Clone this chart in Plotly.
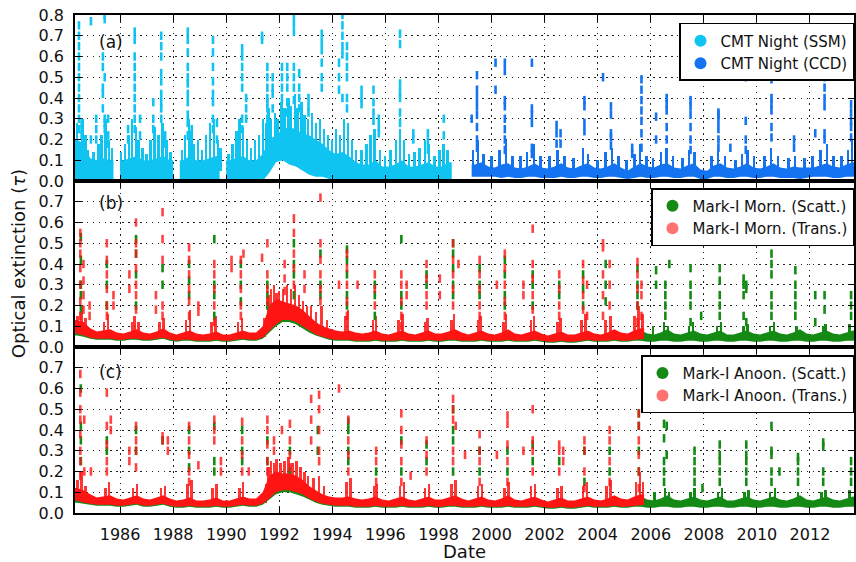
import plotly.graph_objects as go
from plotly.subplots import make_subplots

# ---------------- data ----------------
YEAR_TICKS = [1986, 1988, 1990, 1992, 1994, 1996, 1998, 2000, 2002, 2004, 2006, 2008, 2010, 2012]
YEAR_LABELS = [str(y) for y in YEAR_TICKS]
TAU_TICKS_A = [0.0, 0.1, 0.2, 0.3, 0.4, 0.5, 0.6, 0.7, 0.8]
TAU_TICKS_BC = [0.0, 0.1, 0.2, 0.3, 0.4, 0.5, 0.6, 0.7]

# Dense "background" cloud of each series, given per quarter (low / high envelope)
SSM_START = 1984.375
SSM_LO = [0.0, 0.0, 0.01,
          0.01, 0.01, 0.01, None,
          0.01, 0.01, 0.01, 0.01,
          0.01, 0.01, 0.01, 0.01,
          None, 0.01, 0.01, 0.01,
          0.0, 0.0, 0.0, None,
          0.0, 0.0, 0.0, 0.0,
          0.0, 0.0, 0.04, 0.09,
          0.1, 0.08, 0.07, 0.05,
          0.03, 0.02, 0.02, 0.01,
          0.01, 0.01, 0.01, 0.01,
          0.01, 0.01, 0.01, 0.01,
          0.01, 0.01, 0.01, 0.01,
          0.01, 0.01, 0.01, 0.01,
          0.01, 0.01]
SSM_HI = [0.2, 0.18, 0.11,
          0.1, 0.11, 0.1, None,
          0.1, 0.11, 0.12, 0.1,
          0.1, 0.11, 0.12, 0.1,
          None, 0.1, 0.12, 0.1,
          0.1, 0.11, 0.12, None,
          0.1, 0.11, 0.12, 0.1,
          0.1, 0.13, 0.2, 0.22,
          0.25, 0.26, 0.25, 0.23,
          0.22, 0.2, 0.18, 0.15,
          0.13, 0.14, 0.12, 0.09,
          0.08, 0.08, 0.1, 0.07,
          0.07, 0.08, 0.1, 0.07,
          0.07, 0.08, 0.09, 0.07,
          0.07, 0.09]

CCD_START = 1999.375
CCD_LO = [0.02, 0.02, 0.02,
          0.02, 0.015, 0.02, 0.015,
          0.015, 0.02, 0.02, 0.015,
          0.015, 0.015, 0.02, 0.015,
          0.015, 0.02, 0.02, 0.015,
          0.015, 0.02, 0.02, 0.015,
          0.01, 0.015, 0.02, 0.015,
          0.015, 0.02, 0.02, 0.015,
          0.015, 0.02, 0.02, 0.01,
          0.01, 0.02, 0.02, 0.015,
          0.015, 0.02, 0.02, 0.015,
          0.015, 0.02, 0.02, 0.015,
          0.015, 0.015, 0.01, 0.015,
          0.02, 0.02, 0.02, 0.015,
          0.015, 0.02, 0.02]
CCD_HI = [0.08, 0.09, 0.07,
          0.065, 0.08, 0.085, 0.065,
          0.06, 0.07, 0.085, 0.065,
          0.06, 0.07, 0.085, 0.065,
          0.06, 0.075, 0.085, 0.065,
          0.06, 0.07, 0.085, 0.065,
          0.05, 0.07, 0.085, 0.07,
          0.065, 0.08, 0.085, 0.065,
          0.06, 0.075, 0.085, 0.055,
          0.05, 0.075, 0.085, 0.065,
          0.06, 0.07, 0.085, 0.065,
          0.06, 0.07, 0.085, 0.065,
          0.06, 0.07, 0.065, 0.065,
          0.065, 0.075, 0.085, 0.07,
          0.065, 0.08, 0.09]

MK_START = 1984.375
MORN_TR_LO = [0.065, 0.055, 0.045,
              0.04, 0.04, 0.04, 0.035,
              0.035, 0.04, 0.04, 0.035,
              0.035, 0.04, 0.045, 0.035,
              0.03, 0.035, 0.035, 0.03,
              0.03, 0.03, 0.035, 0.03,
              0.03, 0.035, 0.04, 0.035,
              0.035, 0.045, 0.08, 0.11,
              0.13, 0.13, 0.12, 0.1,
              0.08, 0.06, 0.05, 0.04,
              0.035, 0.035, 0.035, 0.03,
              0.03, 0.03, 0.035, 0.03,
              0.03, 0.03, 0.035, 0.03,
              0.03, 0.03, 0.035, 0.03,
              0.03, 0.035, 0.035, 0.03,
              0.03, 0.03, 0.035, 0.03,
              0.03, 0.03, 0.035, 0.03,
              0.03, 0.03, 0.035, 0.03,
              0.025, 0.025, 0.03, 0.025,
              0.025, 0.03, 0.035, 0.03,
              0.03, 0.03, 0.035, 0.03,
              0.03, 0.035, 0.04]
MORN_TR_HI = [0.13, 0.12, 0.09,
              0.075, 0.08, 0.085, 0.07,
              0.065, 0.075, 0.085, 0.07,
              0.065, 0.075, 0.09, 0.07,
              0.06, 0.07, 0.08, 0.065,
              0.06, 0.065, 0.075, 0.06,
              0.06, 0.07, 0.08, 0.07,
              0.07, 0.1, 0.2, 0.23,
              0.22, 0.21, 0.2, 0.18,
              0.15, 0.12, 0.1, 0.09,
              0.08, 0.075, 0.08, 0.07,
              0.065, 0.07, 0.08, 0.065,
              0.06, 0.07, 0.08, 0.065,
              0.06, 0.07, 0.08, 0.065,
              0.065, 0.075, 0.085, 0.07,
              0.06, 0.07, 0.08, 0.065,
              0.06, 0.07, 0.085, 0.065,
              0.06, 0.07, 0.08, 0.065,
              0.055, 0.065, 0.075, 0.06,
              0.06, 0.07, 0.08, 0.065,
              0.06, 0.07, 0.085, 0.07,
              0.065, 0.08, 0.09]
MORN_SC_LO = [0.055, 0.05, 0.04,
              0.035, 0.035, 0.035, 0.03,
              0.03, 0.035, 0.035, 0.03,
              0.03, 0.035, 0.04, 0.03,
              0.025, 0.03, 0.03, 0.025,
              0.025, 0.025, 0.03, 0.025,
              0.025, 0.03, 0.035, 0.03,
              0.03, 0.04, 0.07, 0.1,
              0.12, 0.12, 0.11, 0.09,
              0.07, 0.055, 0.045, 0.035,
              0.03, 0.03, 0.03, 0.025,
              0.025, 0.025, 0.03, 0.025,
              0.025, 0.025, 0.03, 0.025,
              0.025, 0.025, 0.03, 0.025,
              0.025, 0.03, 0.03, 0.025,
              0.025, 0.025, 0.03, 0.025,
              0.025, 0.025, 0.03, 0.025,
              0.025, 0.025, 0.03, 0.025,
              0.02, 0.02, 0.025, 0.02,
              0.02, 0.025, 0.03, 0.025,
              0.025, 0.025, 0.03, 0.025,
              0.025, 0.03, 0.03, 0.025,
              0.025, 0.03, 0.03, 0.025,
              0.025, 0.03, 0.03, 0.025,
              0.025, 0.03, 0.03, 0.025,
              0.025, 0.03, 0.03, 0.025,
              0.025, 0.03, 0.03, 0.025,
              0.025, 0.03, 0.03, 0.025,
              0.025, 0.03, 0.03, 0.025,
              0.025, 0.03, 0.03]
MORN_SC_HI = [0.12, 0.11, 0.085,
              0.07, 0.075, 0.08, 0.065,
              0.06, 0.07, 0.08, 0.065,
              0.06, 0.07, 0.085, 0.065,
              0.055, 0.065, 0.075, 0.06,
              0.055, 0.06, 0.07, 0.055,
              0.055, 0.065, 0.075, 0.065,
              0.065, 0.09, 0.19, 0.22,
              0.21, 0.2, 0.19, 0.17,
              0.14, 0.11, 0.09, 0.085,
              0.075, 0.07, 0.075, 0.065,
              0.06, 0.065, 0.075, 0.06,
              0.055, 0.065, 0.075, 0.06,
              0.055, 0.065, 0.075, 0.06,
              0.06, 0.07, 0.08, 0.065,
              0.055, 0.065, 0.075, 0.06,
              0.055, 0.065, 0.08, 0.06,
              0.055, 0.065, 0.075, 0.06,
              0.05, 0.06, 0.07, 0.055,
              0.055, 0.065, 0.075, 0.06,
              0.055, 0.065, 0.08, 0.065,
              0.06, 0.07, 0.08, 0.065,
              0.06, 0.07, 0.085, 0.065,
              0.06, 0.07, 0.08, 0.065,
              0.06, 0.07, 0.08, 0.06,
              0.06, 0.07, 0.08, 0.065,
              0.06, 0.07, 0.08, 0.065,
              0.06, 0.07, 0.085, 0.065,
              0.06, 0.07, 0.08, 0.065,
              0.06, 0.07, 0.08]

ANOON_TR_LO = [0.06, 0.05, 0.045,
               0.04, 0.04, 0.04, 0.035,
               0.035, 0.04, 0.045, 0.035,
               0.035, 0.04, 0.045, 0.035,
               0.03, 0.03, 0.035, 0.03,
               0.03, 0.03, 0.035, 0.03,
               0.03, 0.035, 0.04, 0.035,
               0.035, 0.045, 0.07, 0.1,
               0.11, 0.11, 0.1, 0.09,
               0.07, 0.055, 0.045, 0.04,
               0.035, 0.035, 0.035, 0.03,
               0.03, 0.03, 0.035, 0.03,
               0.03, 0.03, 0.035, 0.03,
               0.03, 0.03, 0.035, 0.03,
               0.03, 0.035, 0.035, 0.03,
               0.03, 0.03, 0.035, 0.03,
               0.03, 0.03, 0.035, 0.03,
               0.03, 0.03, 0.035, 0.03,
               0.025, 0.025, 0.03, 0.025,
               0.025, 0.03, 0.035, 0.03,
               0.03, 0.03, 0.035, 0.03,
               0.03, 0.035, 0.04]
ANOON_TR_HI = [0.12, 0.11, 0.09,
               0.075, 0.08, 0.085, 0.07,
               0.065, 0.075, 0.085, 0.07,
               0.065, 0.075, 0.085, 0.07,
               0.06, 0.065, 0.075, 0.06,
               0.06, 0.065, 0.075, 0.06,
               0.06, 0.07, 0.08, 0.07,
               0.07, 0.1, 0.18, 0.2,
               0.19, 0.19, 0.18, 0.16,
               0.13, 0.11, 0.09, 0.08,
               0.075, 0.075, 0.08, 0.07,
               0.065, 0.07, 0.08, 0.065,
               0.06, 0.07, 0.08, 0.065,
               0.06, 0.07, 0.08, 0.065,
               0.065, 0.075, 0.085, 0.07,
               0.06, 0.07, 0.08, 0.065,
               0.06, 0.07, 0.085, 0.065,
               0.06, 0.07, 0.08, 0.065,
               0.055, 0.065, 0.075, 0.06,
               0.06, 0.07, 0.08, 0.065,
               0.06, 0.07, 0.085, 0.07,
               0.065, 0.08, 0.09]
ANOON_SC_LO = [0.05, 0.045, 0.04,
               0.035, 0.035, 0.035, 0.03,
               0.03, 0.035, 0.04, 0.03,
               0.03, 0.035, 0.04, 0.03,
               0.025, 0.025, 0.03, 0.025,
               0.025, 0.025, 0.03, 0.025,
               0.025, 0.03, 0.035, 0.03,
               0.03, 0.04, 0.065, 0.09,
               0.1, 0.1, 0.09, 0.08,
               0.065, 0.05, 0.04, 0.035,
               0.03, 0.03, 0.03, 0.025,
               0.025, 0.025, 0.03, 0.025,
               0.025, 0.025, 0.03, 0.025,
               0.025, 0.025, 0.03, 0.025,
               0.025, 0.03, 0.03, 0.025,
               0.025, 0.025, 0.03, 0.025,
               0.025, 0.025, 0.03, 0.025,
               0.025, 0.025, 0.03, 0.025,
               0.02, 0.02, 0.025, 0.02,
               0.02, 0.025, 0.03, 0.025,
               0.025, 0.025, 0.03, 0.025,
               0.025, 0.03, 0.03, 0.025,
               0.025, 0.03, 0.03, 0.025,
               0.025, 0.03, 0.03, 0.025,
               0.025, 0.03, 0.03, 0.025,
               0.025, 0.03, 0.03, 0.025,
               0.025, 0.03, 0.03, 0.025,
               0.025, 0.03, 0.03, 0.025,
               0.025, 0.03, 0.03, 0.025,
               0.025, 0.03, 0.03]
ANOON_SC_HI = [0.11, 0.1, 0.085,
               0.07, 0.075, 0.08, 0.065,
               0.06, 0.07, 0.08, 0.065,
               0.06, 0.07, 0.08, 0.065,
               0.055, 0.06, 0.07, 0.055,
               0.055, 0.06, 0.07, 0.055,
               0.055, 0.065, 0.075, 0.065,
               0.065, 0.09, 0.17, 0.19,
               0.18, 0.18, 0.17, 0.15,
               0.12, 0.1, 0.085, 0.075,
               0.07, 0.07, 0.075, 0.065,
               0.06, 0.065, 0.075, 0.06,
               0.055, 0.065, 0.075, 0.06,
               0.055, 0.065, 0.075, 0.06,
               0.06, 0.07, 0.08, 0.065,
               0.055, 0.065, 0.075, 0.06,
               0.055, 0.065, 0.08, 0.06,
               0.055, 0.065, 0.075, 0.06,
               0.05, 0.06, 0.07, 0.055,
               0.055, 0.065, 0.075, 0.06,
               0.055, 0.065, 0.08, 0.065,
               0.06, 0.07, 0.08, 0.065,
               0.06, 0.07, 0.085, 0.065,
               0.06, 0.07, 0.08, 0.065,
               0.06, 0.07, 0.08, 0.06,
               0.06, 0.07, 0.08, 0.065,
               0.06, 0.07, 0.08, 0.065,
               0.06, 0.07, 0.085, 0.065,
               0.06, 0.07, 0.08, 0.065,
               0.06, 0.07, 0.08]

# Short runs of closely packed points above the dense cloud: (decimal year, low, high)
SSM_GRASS = [
    (1984.32, 0.05, 0.2), (1984.38, 0.05, 0.28), (1984.6, 0.05, 0.3), (1984.7, 0.05, 0.22),
    (1984.8, 0.05, 0.15), (1985.0, 0.05, 0.14), (1985.2, 0.05, 0.18), (1985.3, 0.05, 0.22),
    (1985.45, 0.05, 0.3), (1985.6, 0.05, 0.2), (1985.7, 0.05, 0.16), (1986.05, 0.05, 0.14),
    (1986.2, 0.05, 0.18), (1986.35, 0.05, 0.22), (1986.45, 0.05, 0.3), (1986.6, 0.05, 0.26),
    (1986.7, 0.05, 0.2), (1986.85, 0.05, 0.16), (1987.0, 0.05, 0.13), (1987.15, 0.05, 0.2),
    (1987.3, 0.05, 0.26), (1987.45, 0.05, 0.22), (1987.6, 0.05, 0.28), (1987.75, 0.05, 0.2),
    (1987.9, 0.05, 0.14), (1988.35, 0.05, 0.15), (1988.45, 0.05, 0.22), (1988.6, 0.05, 0.3),
    (1988.7, 0.05, 0.24), (1988.8, 0.05, 0.18), (1988.95, 0.05, 0.2), (1989.1, 0.05, 0.15),
    (1989.25, 0.05, 0.22), (1989.4, 0.05, 0.28), (1989.55, 0.05, 0.3), (1989.7, 0.05, 0.2),
    (1989.8, 0.05, 0.16), (1990.1, 0.05, 0.13), (1990.25, 0.05, 0.18), (1990.4, 0.05, 0.24),
    (1990.5, 0.05, 0.3), (1990.65, 0.05, 0.26), (1990.8, 0.05, 0.2), (1990.95, 0.05, 0.16),
    (1991.1, 0.05, 0.2), (1991.25, 0.05, 0.22), (1991.4, 0.05, 0.3), (1991.5, 0.06, 0.28),
    (1991.6, 0.08, 0.35), (1991.7, 0.1, 0.3), (1991.85, 0.1, 0.33), (1991.95, 0.1, 0.3),
    (1992.1, 0.1, 0.38), (1992.2, 0.1, 0.35), (1992.35, 0.09, 0.4), (1992.45, 0.08, 0.36),
    (1992.6, 0.08, 0.42), (1992.7, 0.07, 0.35), (1992.85, 0.06, 0.38), (1992.95, 0.05, 0.32),
    (1993.1, 0.05, 0.3), (1993.25, 0.04, 0.33), (1993.4, 0.04, 0.28), (1993.55, 0.04, 0.3),
    (1993.7, 0.04, 0.25), (1993.85, 0.04, 0.22), (1994.0, 0.04, 0.2), (1994.15, 0.04, 0.25),
    (1994.3, 0.04, 0.22), (1994.45, 0.04, 0.3), (1994.6, 0.04, 0.28), (1994.75, 0.04, 0.2),
    (1994.9, 0.04, 0.15), (1995.1, 0.04, 0.15), (1995.3, 0.04, 0.18), (1995.45, 0.04, 0.22),
    (1995.6, 0.04, 0.25), (1995.8, 0.04, 0.15), (1996.0, 0.04, 0.12), (1996.2, 0.04, 0.15),
    (1996.4, 0.04, 0.2), (1996.55, 0.04, 0.25), (1996.7, 0.04, 0.2), (1996.9, 0.04, 0.13),
    (1997.1, 0.04, 0.14), (1997.3, 0.04, 0.16), (1997.5, 0.04, 0.2), (1997.65, 0.04, 0.18),
    (1997.85, 0.04, 0.12), (1998.05, 0.04, 0.15), (1998.2, 0.04, 0.18), (1998.35, 0.04, 0.15),
]
CCD_GRASS = [
    (1999.3, 0.04, 0.15), (1999.5, 0.04, 0.2), (1999.7, 0.04, 0.13), (2000.0, 0.04, 0.12),
    (2000.3, 0.04, 0.15), (2000.55, 0.04, 0.2), (2000.8, 0.04, 0.12), (2001.1, 0.04, 0.12),
    (2001.35, 0.04, 0.14), (2001.6, 0.04, 0.18), (2001.85, 0.04, 0.12), (2002.2, 0.04, 0.12),
    (2002.5, 0.04, 0.15), (2002.75, 0.04, 0.12), (2003.1, 0.04, 0.11), (2003.45, 0.04, 0.16),
    (2003.65, 0.04, 0.13), (2004.0, 0.04, 0.1), (2004.3, 0.04, 0.14), (2004.55, 0.04, 0.16),
    (2004.8, 0.04, 0.12), (2005.1, 0.04, 0.1), (2005.4, 0.04, 0.13), (2005.6, 0.04, 0.18),
    (2005.85, 0.04, 0.12), (2006.1, 0.04, 0.11), (2006.4, 0.04, 0.14), (2006.6, 0.04, 0.16),
    (2006.85, 0.04, 0.12), (2007.2, 0.04, 0.11), (2007.45, 0.04, 0.15), (2007.65, 0.04, 0.14),
    (2008.3, 0.04, 0.12), (2008.55, 0.04, 0.15), (2008.8, 0.04, 0.12), (2009.2, 0.04, 0.1),
    (2009.45, 0.04, 0.13), (2009.65, 0.04, 0.15), (2009.9, 0.04, 0.12), (2010.3, 0.04, 0.12),
    (2010.55, 0.04, 0.16), (2010.8, 0.04, 0.12), (2011.2, 0.04, 0.11), (2011.45, 0.04, 0.12),
    (2011.8, 0.04, 0.11), (2012.1, 0.04, 0.12), (2012.4, 0.04, 0.15), (2012.65, 0.04, 0.18),
    (2012.9, 0.04, 0.12), (2013.2, 0.04, 0.12), (2013.45, 0.04, 0.15), (2013.6, 0.04, 0.2),
]
MORN_TR_GRASS = [
    (1984.4, 0.06, 0.15), (1984.55, 0.06, 0.2), (1984.7, 0.05, 0.14), (1985.4, 0.05, 0.12),
    (1985.55, 0.05, 0.16), (1986.45, 0.05, 0.12), (1986.55, 0.05, 0.15), (1986.7, 0.05, 0.12),
    (1987.5, 0.05, 0.12), (1987.65, 0.05, 0.14), (1988.5, 0.05, 0.13), (1988.65, 0.05, 0.18),
    (1989.45, 0.05, 0.12), (1989.6, 0.05, 0.15), (1990.45, 0.05, 0.12), (1990.6, 0.05, 0.14),
    (1991.45, 0.05, 0.14), (1991.6, 0.1, 0.25), (1991.7, 0.1, 0.28), (1991.8, 0.12, 0.3),
    (1991.9, 0.12, 0.26), (1992.0, 0.12, 0.27), (1992.15, 0.12, 0.28), (1992.3, 0.12, 0.3),
    (1992.45, 0.12, 0.28), (1992.6, 0.12, 0.3), (1992.75, 0.1, 0.25), (1992.9, 0.1, 0.22),
    (1993.05, 0.08, 0.2), (1993.2, 0.08, 0.2), (1993.4, 0.06, 0.17), (1993.6, 0.05, 0.2),
    (1993.8, 0.05, 0.13), (1994.5, 0.05, 0.15), (1994.6, 0.05, 0.18), (1995.55, 0.05, 0.13),
    (1995.65, 0.05, 0.15), (1996.5, 0.05, 0.13), (1996.65, 0.05, 0.16), (1997.5, 0.05, 0.12),
    (1997.6, 0.05, 0.14), (1998.5, 0.05, 0.13), (1998.6, 0.05, 0.16), (1999.5, 0.05, 0.13),
    (1999.6, 0.05, 0.15), (2000.45, 0.05, 0.12), (2000.55, 0.05, 0.16), (2001.5, 0.05, 0.13),
    (2001.6, 0.05, 0.15), (2002.5, 0.05, 0.12), (2002.6, 0.05, 0.14), (2003.4, 0.05, 0.13),
    (2003.55, 0.05, 0.16), (2004.3, 0.05, 0.13), (2004.5, 0.05, 0.15), (2005.4, 0.05, 0.15),
    (2005.55, 0.05, 0.2), (2005.7, 0.05, 0.16),
]
ANOON_TR_GRASS = [
    (1984.4, 0.06, 0.16), (1984.55, 0.06, 0.2), (1984.7, 0.05, 0.13), (1985.45, 0.05, 0.12),
    (1985.6, 0.05, 0.15), (1986.5, 0.05, 0.12), (1986.65, 0.05, 0.14), (1987.55, 0.05, 0.12),
    (1987.7, 0.05, 0.13), (1988.55, 0.05, 0.14), (1988.7, 0.05, 0.16), (1989.5, 0.05, 0.12),
    (1989.65, 0.05, 0.14), (1990.5, 0.05, 0.12), (1990.65, 0.05, 0.15), (1991.5, 0.05, 0.14),
    (1991.6, 0.09, 0.22), (1991.7, 0.1, 0.25), (1991.8, 0.1, 0.24), (1991.9, 0.11, 0.26),
    (1992.05, 0.11, 0.24), (1992.2, 0.11, 0.25), (1992.35, 0.11, 0.27), (1992.5, 0.1, 0.24),
    (1992.65, 0.1, 0.25), (1992.8, 0.09, 0.22), (1992.95, 0.08, 0.2), (1993.1, 0.07, 0.18),
    (1993.3, 0.06, 0.17), (1993.5, 0.05, 0.18), (1993.7, 0.05, 0.13), (1994.55, 0.05, 0.15),
    (1994.7, 0.05, 0.17), (1995.6, 0.05, 0.13), (1995.7, 0.05, 0.14), (1996.55, 0.05, 0.13),
    (1996.7, 0.05, 0.15), (1997.5, 0.05, 0.12), (1997.65, 0.05, 0.14), (1998.5, 0.05, 0.14),
    (1998.65, 0.05, 0.16), (1999.5, 0.05, 0.13), (1999.65, 0.05, 0.14), (2000.5, 0.05, 0.12),
    (2000.65, 0.05, 0.15), (2001.5, 0.05, 0.13), (2001.65, 0.05, 0.14), (2002.5, 0.05, 0.12),
    (2002.65, 0.05, 0.13), (2003.45, 0.05, 0.13), (2003.6, 0.05, 0.15), (2004.35, 0.05, 0.13),
    (2004.5, 0.05, 0.16), (2005.45, 0.05, 0.15), (2005.6, 0.05, 0.2), (2005.72, 0.05, 0.15),
]
MORN_SC_GRASS = [
    (2006.1, 0.04, 0.1), (2006.5, 0.04, 0.12), (2006.65, 0.04, 0.1), (2007.45, 0.04, 0.1),
    (2007.6, 0.04, 0.12), (2008.5, 0.04, 0.1), (2008.65, 0.04, 0.12), (2009.5, 0.04, 0.1),
    (2009.65, 0.04, 0.11), (2010.5, 0.04, 0.1), (2010.65, 0.04, 0.12), (2011.5, 0.04, 0.1),
    (2012.5, 0.04, 0.1), (2012.6, 0.04, 0.11), (2013.5, 0.04, 0.11),
]
ANOON_SC_GRASS = [
    (2006.15, 0.04, 0.1), (2006.55, 0.04, 0.12), (2006.7, 0.04, 0.1), (2007.5, 0.04, 0.1),
    (2007.65, 0.04, 0.12), (2008.55, 0.04, 0.1), (2008.7, 0.04, 0.12), (2009.55, 0.04, 0.1),
    (2009.7, 0.04, 0.11), (2010.5, 0.04, 0.1), (2010.7, 0.04, 0.12), (2011.55, 0.04, 0.1),
    (2012.45, 0.04, 0.1), (2012.6, 0.04, 0.11), (2013.5, 0.04, 0.11),
]

# Individual high-extinction events: (decimal year, [tau values])
SSM_SPIKES = [
    (1984.45, [0.75, 0.7, 0.65, 0.6, 0.55, 0.5, 0.45, 0.4, 0.35, 0.3, 0.25]),
    (1984.55, [0.28, 0.25, 0.22]), (1984.9, [0.77, 0.2]), (1985.1, [0.3, 0.25, 0.2]),
    (1985.35, [0.6, 0.55, 0.45, 0.42, 0.35]), (1985.42, [0.8, 0.78, 0.5, 0.3, 0.28, 0.25]),
    (1985.55, [0.3, 0.22, 0.18]), (1986.3, [0.25, 0.2]),
    (1986.55, [0.72, 0.68, 0.6, 0.55, 0.5, 0.45, 0.4, 0.35, 0.3, 0.25]),
    (1986.75, [0.3, 0.22]), (1987.25, [0.38, 0.3, 0.25]),
    (1987.55, [0.7, 0.65, 0.6, 0.52, 0.48, 0.42, 0.38, 0.35, 0.3]),
    (1987.7, [0.22, 0.18]),
    (1988.55, [0.72, 0.68, 0.62, 0.55, 0.5, 0.47, 0.42, 0.38, 0.32, 0.28, 0.22]),
    (1988.7, [0.25, 0.2, 0.18]),
    (1989.5, [0.68, 0.62, 0.55, 0.48, 0.42, 0.38, 0.3, 0.25]),
    (1989.65, [0.28, 0.2]), (1990.6, [0.64, 0.6, 0.55, 0.5, 0.45, 0.3, 0.25]),
    (1990.75, [0.4, 0.35, 0.3]), (1991.35, [0.7, 0.68]),
    (1991.55, [0.55, 0.5, 0.45, 0.4, 0.38, 0.35, 0.3]), (1991.75, [0.5, 0.45, 0.42, 0.35]),
    (1992.1, [0.55, 0.5, 0.45, 0.4]), (1992.3, [0.55, 0.5, 0.45, 0.38, 0.33]),
    (1992.55, [0.8, 0.76, 0.72, 0.55, 0.5, 0.45, 0.39]), (1992.75, [0.52, 0.45, 0.4, 0.35]),
    (1993.1, [0.4, 0.36, 0.33]), (1993.6, [0.71, 0.67, 0.63, 0.57, 0.5, 0.45]),
    (1994.25, [0.57, 0.5, 0.44]), (1994.38, [0.8, 0.75, 0.7, 0.65, 0.61, 0.4]),
    (1994.55, [0.65, 0.6, 0.55, 0.5, 0.4, 0.35]), (1995.1, [0.44, 0.4, 0.37]),
    (1995.55, [0.44, 0.38, 0.33, 0.29]), (1995.75, [0.3, 0.26, 0.23]),
    (1996.55, [0.71, 0.66, 0.47, 0.43, 0.4, 0.33, 0.28]), (1997.05, [0.23, 0.2]),
    (1997.6, [0.23, 0.19, 0.15]), (1998.2, [0.3, 0.22]),
]
CCD_SPIKES = [
    (1999.25, [0.3]), (1999.45, [0.51, 0.44, 0.4, 0.36, 0.32, 0.26, 0.2, 0.16]),
    (2000.15, [0.57, 0.44]), (2000.5, [0.57, 0.53, 0.39, 0.36, 0.3, 0.25, 0.2, 0.15]),
    (2001.52, [0.57, 0.35, 0.32, 0.28, 0.16, 0.13]), (2002.45, [0.27, 0.23, 0.18]),
    (2002.6, [0.23, 0.18]), (2003.5, [0.39, 0.36, 0.28, 0.24]), (2004.2, [0.5]),
    (2004.5, [0.36, 0.32, 0.23, 0.21, 0.17]), (2005.3, [0.16, 0.13]),
    (2005.65, [0.49, 0.44, 0.39, 0.34, 0.29, 0.23, 0.16]), (2006.2, [0.31, 0.2]),
    (2006.6, [0.4, 0.37, 0.34, 0.26, 0.2]), (2007.5, [0.39, 0.36, 0.32, 0.26, 0.2, 0.15]),
    (2008.55, [0.33, 0.32, 0.29, 0.25, 0.2, 0.16]), (2009.0, [0.16]),
    (2009.58, [0.5, 0.29, 0.2, 0.15]), (2010.55, [0.49, 0.4, 0.37, 0.34, 0.26, 0.21]),
    (2011.4, [0.2, 0.16]), (2012.2, [0.23]), (2012.55, [0.5, 0.45, 0.4, 0.36, 0.23, 0.2]),
    (2013.55, [0.37, 0.33, 0.29, 0.26, 0.21]),
]
MORN_TR_SPIKES = [
    (1984.5, [0.55, 0.5, 0.45, 0.38, 0.3, 0.22, 0.15]), (1984.62, [0.4, 0.32, 0.25, 0.18]),
    (1984.85, [0.2, 0.15]), (1985.5, [0.5, 0.42, 0.35, 0.28, 0.2, 0.15]),
    (1985.75, [0.25, 0.2]), (1986.35, [0.35, 0.28]),
    (1986.6, [0.6, 0.5, 0.45, 0.38, 0.3, 0.25, 0.18]), (1987.35, [0.25, 0.18]),
    (1987.6, [0.65, 0.52, 0.42, 0.2, 0.15]), (1988.6, [0.48, 0.42, 0.35, 0.28, 0.22, 0.15]),
    (1988.95, [0.2, 0.17]), (1989.55, [0.4, 0.35, 0.28, 0.2, 0.12]), (1990.2, [0.42, 0.38]),
    (1990.55, [0.42, 0.35, 0.28, 0.2, 0.15]), (1990.65, [0.45]), (1991.35, [0.43]),
    (1991.55, [0.5, 0.35, 0.28, 0.22]), (1992.2, [0.4, 0.33, 0.27]),
    (1992.55, [0.62, 0.55, 0.45, 0.38, 0.3]), (1992.95, [0.35, 0.28]),
    (1993.55, [0.72, 0.5, 0.42, 0.35, 0.28, 0.22]), (1994.25, [0.3]),
    (1994.55, [0.45, 0.38, 0.3, 0.22, 0.15]), (1994.95, [0.3]), (1995.6, [0.35, 0.28, 0.2]),
    (1996.6, [0.35, 0.3, 0.22, 0.15, 0.1]), (1996.8, [0.3, 0.25]),
    (1997.55, [0.4, 0.33, 0.25, 0.2]), (1998.05, [0.33, 0.25]),
    (1998.55, [0.5, 0.42, 0.35, 0.28, 0.2]), (1998.75, [0.4]),
    (1999.55, [0.42, 0.35, 0.28, 0.2, 0.15]), (2000.2, [0.3]),
    (2000.5, [0.45, 0.38, 0.3, 0.22, 0.15]), (2001.2, [0.3, 0.25]),
    (2001.55, [0.57, 0.4, 0.33, 0.25, 0.18]), (2002.55, [0.35, 0.28, 0.2, 0.15]),
    (2003.45, [0.4, 0.32, 0.25, 0.18]), (2003.6, [0.3, 0.15]),
    (2004.2, [0.5, 0.48, 0.35, 0.25, 0.15]), (2004.45, [0.4, 0.3, 0.2]),
    (2005.5, [0.41, 0.35, 0.28, 0.2, 0.12]), (2005.65, [0.3, 0.25, 0.15]),
]
MORN_SC_SPIKES = [
    (1984.52, [0.53, 0.42, 0.3, 0.25, 0.18]), (1985.5, [0.4, 0.3, 0.2]),
    (1986.6, [0.52, 0.45, 0.35, 0.2]), (1987.6, [0.38, 0.3]), (1988.6, [0.4, 0.32, 0.25]),
    (1989.55, [0.52, 0.3, 0.25, 0.15]), (1990.55, [0.4, 0.3, 0.22]), (1991.55, [0.3, 0.25, 0.2]),
    (1992.55, [0.5, 0.4, 0.35, 0.25]), (1993.55, [0.45, 0.3, 0.25]),
    (1994.55, [0.47, 0.42, 0.35, 0.25, 0.2]), (1995.6, [0.3, 0.25, 0.15]),
    (1996.6, [0.52, 0.25, 0.2]), (1997.55, [0.35, 0.3]), (1998.55, [0.5, 0.45, 0.38, 0.3, 0.25]),
    (1999.55, [0.38, 0.3, 0.25]), (2000.5, [0.42, 0.35, 0.25, 0.2]), (2001.55, [0.35, 0.3, 0.2]),
    (2002.55, [0.3, 0.25]), (2003.45, [0.35, 0.28, 0.2]), (2004.3, [0.4, 0.3, 0.22]),
    (2005.5, [0.38, 0.3, 0.25, 0.2]), (2006.2, [0.37, 0.3]), (2006.55, [0.3, 0.25, 0.2, 0.15]),
    (2006.7, [0.4]), (2007.5, [0.38, 0.3, 0.25, 0.2, 0.12]), (2007.9, [0.15]),
    (2008.6, [0.38, 0.32, 0.25, 0.2, 0.15]), (2009.5, [0.33, 0.3, 0.25, 0.15]),
    (2009.6, [0.3, 0.28, 0.12]), (2010.55, [0.45, 0.4, 0.35, 0.25, 0.2, 0.15]),
    (2011.45, [0.37, 0.3, 0.25, 0.2, 0.15]), (2012.2, [0.25, 0.12]), (2012.55, [0.25, 0.18]),
    (2013.55, [0.25, 0.2, 0.15]),
]
ANOON_TR_SPIKES = [
    (1984.5, [0.67, 0.58, 0.5, 0.45, 0.38, 0.3, 0.25, 0.18]), (1984.65, [0.45, 0.2]),
    (1984.9, [0.2]), (1985.5, [0.58, 0.42, 0.33, 0.25, 0.2]), (1985.65, [0.45, 0.4]),
    (1986.35, [0.3, 0.25]), (1986.6, [0.42, 0.35, 0.3, 0.22]), (1987.6, [0.37, 0.35]),
    (1987.8, [0.35, 0.3]), (1988.6, [0.42, 0.35, 0.28, 0.2, 0.15]), (1988.95, [0.23]),
    (1989.55, [0.45, 0.4, 0.35]), (1989.8, [0.25, 0.2]), (1990.6, [0.44, 0.35, 0.28, 0.2]),
    (1990.85, [0.2]), (1991.55, [0.45, 0.4, 0.33, 0.25, 0.2]), (1991.8, [0.35, 0.3]),
    (1992.1, [0.4]), (1992.4, [0.43, 0.35, 0.28, 0.22]), (1993.2, [0.55, 0.45, 0.35]),
    (1993.5, [0.57, 0.5, 0.4, 0.3, 0.25]), (1994.25, [0.6]), (1994.6, [0.45, 0.35, 0.28, 0.2]),
    (1995.65, [0.3, 0.25, 0.15]), (1996.6, [0.48, 0.4, 0.33, 0.25, 0.15]), (1996.95, [0.18]),
    (1997.55, [0.35, 0.28, 0.2]), (1998.55, [0.55, 0.5, 0.45, 0.3, 0.25]), (1998.65, [0.42]),
    (1999.0, [0.28]), (1999.55, [0.38, 0.3, 0.25, 0.15]), (2000.2, [0.28]),
    (2000.6, [0.47, 0.43, 0.33, 0.25, 0.15]), (2001.2, [0.3]), (2001.55, [0.5, 0.35, 0.3, 0.2]),
    (2002.55, [0.33, 0.3, 0.2]), (2002.7, [0.3, 0.25]), (2003.5, [0.35, 0.3, 0.2, 0.12]),
    (2004.45, [0.4, 0.35, 0.25, 0.15]), (2005.55, [0.48, 0.42, 0.35, 0.28, 0.2, 0.12]),
]
ANOON_SC_SPIKES = [
    (1984.52, [0.6, 0.42, 0.35, 0.25]), (1985.5, [0.35, 0.3]), (1986.6, [0.4, 0.3]),
    (1987.6, [0.35]), (1988.6, [0.4, 0.3, 0.22]), (1989.55, [0.42, 0.25, 0.2]),
    (1990.6, [0.4, 0.3, 0.25]), (1991.55, [0.35, 0.25]), (1992.4, [0.3, 0.2]),
    (1993.45, [0.4, 0.3]), (1994.6, [0.44, 0.4, 0.3, 0.25]), (1995.65, [0.2]),
    (1996.6, [0.35, 0.2]), (1997.55, [0.33, 0.25]), (1998.55, [0.5, 0.4, 0.35, 0.2]),
    (1999.55, [0.3, 0.2]), (2000.6, [0.3, 0.2]), (2001.55, [0.33, 0.25]), (2002.55, [0.25]),
    (2003.5, [0.3, 0.15]), (2004.45, [0.3, 0.2]), (2005.55, [0.48, 0.42, 0.3, 0.2]),
    (2006.5, [0.43, 0.36, 0.25, 0.2, 0.15]), (2006.6, [0.42, 0.28]),
    (2007.65, [0.3, 0.25, 0.2, 0.15]), (2007.95, [0.12]), (2008.6, [0.33, 0.28, 0.25, 0.2, 0.15]),
    (2009.6, [0.33, 0.28, 0.25, 0.2, 0.15]), (2010.55, [0.42, 0.3, 0.28, 0.2, 0.15]),
    (2010.85, [0.2]), (2011.55, [0.27, 0.25, 0.2, 0.15]), (2012.5, [0.34, 0.32, 0.2, 0.15]),
    (2013.55, [0.25, 0.2, 0.15]),
]

C_SSM = "#10c4f2"
C_CCD = "#1473f0"
C_GREEN = "#148a14"
C_RED = "#ff1414"

# ---------------- figure ----------------
fig = make_subplots(rows=3, cols=1, shared_xaxes=True, vertical_spacing=0)


def add_band(start, lo, hi, color, row):
    # split into continuous segments (None marks a data gap) and fill between lo and hi
    segs, cur = [], []
    for i, (a, b) in enumerate(zip(lo, hi)):
        if a is None or b is None:
            if cur:
                segs.append(cur)
            cur = []
            continue
        cur.append((start + 0.25 * i, a, b))
    if cur:
        segs.append(cur)
    for seg in segs:
        xs = [s[0] for s in seg]
        xs = [xs[0] - 0.125] + xs + [xs[-1] + 0.125]
        los = [seg[0][1]] + [s[1] for s in seg] + [seg[-1][1]]
        his = [seg[0][2]] + [s[2] for s in seg] + [seg[-1][2]]
        fig.add_trace(go.Scatter(x=xs, y=los, mode="lines", line=dict(width=0, color=color),
                                 showlegend=False, hoverinfo="skip"), row=row, col=1)
        fig.add_trace(go.Scatter(x=xs, y=his, mode="lines", line=dict(width=0, color=color),
                                 fill="tonexty", fillcolor=color,
                                 showlegend=False, hoverinfo="skip"), row=row, col=1)


def add_grass(grass, color, row, opacity=1.0):
    fig.add_trace(go.Bar(x=[g[0] for g in grass], y=[g[2] - g[1] for g in grass],
                         base=[g[1] for g in grass], width=0.075, opacity=opacity,
                         marker=dict(color=color, line=dict(width=0)),
                         showlegend=False, hoverinfo="skip"), row=row, col=1)


def add_spikes(spikes, color, row, opacity=1.0):
    xs, ys = [], []
    for d, vals in spikes:
        for v in vals:
            xs.append(d)
            ys.append(v)
    fig.add_trace(go.Scatter(x=xs, y=ys, mode="markers", opacity=opacity,
                             marker=dict(symbol="line-ns", size=6,
                                         line=dict(color=color, width=2.6)),
                             showlegend=False, hoverinfo="skip"), row=row, col=1)


def add_legend_entry(name, color, row, legend, opacity=1.0):
    fig.add_trace(go.Scatter(x=[None], y=[None], mode="markers", name=name,
                             marker=dict(symbol="circle", size=7, color=color, opacity=opacity),
                             legend=legend, showlegend=True), row=row, col=1)


# (a)
add_grass(SSM_GRASS, C_SSM, 1)
add_band(SSM_START, SSM_LO, SSM_HI, C_SSM, 1)
add_spikes(SSM_SPIKES, C_SSM, 1)
add_grass(CCD_GRASS, C_CCD, 1)
add_band(CCD_START, CCD_LO, CCD_HI, C_CCD, 1)
add_spikes(CCD_SPIKES, C_CCD, 1)
add_legend_entry("CMT Night (SSM)", C_SSM, 1, "legend")
add_legend_entry("CMT Night (CCD)", C_CCD, 1, "legend")
# (b)
add_grass(MORN_SC_GRASS, C_GREEN, 2)
add_band(MK_START, MORN_SC_LO, MORN_SC_HI, C_GREEN, 2)
add_spikes(MORN_SC_SPIKES, C_GREEN, 2)
add_grass(MORN_TR_GRASS, C_RED, 2, opacity=0.85)
add_band(MK_START, MORN_TR_LO, MORN_TR_HI, C_RED, 2)
add_spikes(MORN_TR_SPIKES, C_RED, 2, opacity=0.8)
add_legend_entry("Mark-I Morn. (Scatt.)", C_GREEN, 2, "legend2")
add_legend_entry("Mark-I Morn. (Trans.)", C_RED, 2, "legend2", opacity=0.6)
# (c)
add_grass(ANOON_SC_GRASS, C_GREEN, 3)
add_band(MK_START, ANOON_SC_LO, ANOON_SC_HI, C_GREEN, 3)
add_spikes(ANOON_SC_SPIKES, C_GREEN, 3)
add_grass(ANOON_TR_GRASS, C_RED, 3, opacity=0.85)
add_band(MK_START, ANOON_TR_LO, ANOON_TR_HI, C_RED, 3)
add_spikes(ANOON_TR_SPIKES, C_RED, 3, opacity=0.8)
add_legend_entry("Mark-I Anoon. (Scatt.)", C_GREEN, 3, "legend3")
add_legend_entry("Mark-I Anoon. (Trans.)", C_RED, 3, "legend3", opacity=0.6)

FONT = "DejaVu Sans"
GRID = dict(showgrid=True, gridcolor="#222222", gridwidth=1, griddash="1.6px,4.3px")
AX = dict(showline=True, linecolor="black", linewidth=1.5, mirror="ticks",
          ticks="inside", ticklen=6, tickwidth=1, tickcolor="black",
          zeroline=False, tickfont=dict(family=FONT, size=16, color="#111111"))

for r in (1, 2, 3):
    fig.update_xaxes(range=[1984.30, 2013.66], tickmode="array", tickvals=YEAR_TICKS,
                     ticktext=YEAR_LABELS, showticklabels=(r == 3), ticklabelstandoff=6,
                     **GRID, **AX, row=r, col=1)
    fig.update_yaxes(range=[0, 0.8], tickmode="array",
                     tickvals=TAU_TICKS_A if r == 1 else TAU_TICKS_BC,
                     ticktext=["%.1f" % v for v in (TAU_TICKS_A if r == 1 else TAU_TICKS_BC)],
                     ticklabelstandoff=6, **GRID, **AX, row=r, col=1)

LEG = dict(xanchor="right", x=1.0, yanchor="top", bgcolor="white", bordercolor="black",
           borderwidth=1.5, font=dict(family=FONT, size=15, color="#111111"),
           itemsizing="constant", tracegroupgap=0, traceorder="normal")
fig.update_layout(
    width=856, height=562,
    margin=dict(l=75, r=0, t=15, b=49),
    paper_bgcolor="white", plot_bgcolor="white",
    barmode="overlay", bargap=0,
    font=dict(family=FONT, color="#111111"),
    legend=dict(y=0.984, **LEG),
    legend2=dict(y=0.6526, **LEG),
    legend3=dict(y=0.317, **LEG),
)

for txt, yp in (("(a)", 0.9458), ("(b)", 0.6225), ("(c)", 0.283)):
    fig.add_annotation(text=txt, xref="paper", yref="paper", x=0.046, y=yp,
                       xanchor="center", yanchor="middle", showarrow=False,
                       font=dict(family=FONT, size=17, color="#111111"))
fig.add_annotation(text="Date", xref="paper", yref="paper", x=0.5, y=-0.078,
                   xanchor="center", yanchor="middle", showarrow=False,
                   font=dict(family=FONT, size=18, color="#111111"))
fig.add_annotation(text="Optical extinction (<i>τ</i>)", xref="paper", yref="paper",
                   x=-0.073, y=0.5, xanchor="center", yanchor="middle", textangle=-90,
                   showarrow=False, font=dict(family=FONT, size=18, color="#111111"))

fig.write_html("out.html")
